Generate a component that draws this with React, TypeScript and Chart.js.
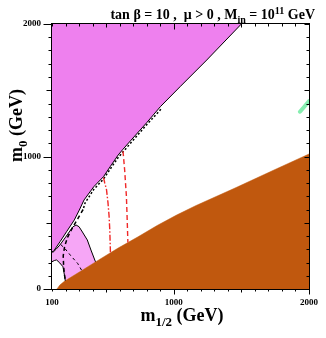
import React, { useEffect, useRef } from "react";
import { Chart, registerables } from "chart.js";

Chart.register(...registerables);

// ---- axis ticks ----
const X_TICKS = [100, 1000, 2000];
const Y_TICKS = [0, 1000, 2000];
const X_MINOR = [100, 200, 300, 400, 500, 600, 700, 800, 900, 1000, 1100, 1200, 1300, 1400, 1500, 1600, 1700, 1800, 1900, 2000];
const Y_MINOR = [0, 100, 200, 300, 400, 500, 600, 700, 800, 900, 1000, 1100, 1200, 1300, 1400, 1500, 1600, 1700, 1800, 1900, 2000];

// ---- magenta (charged LSP / excluded) region boundary ----
const magentaM12 = [100, 110, 160, 210, 265, 302, 337, 409, 481, 530, 589, 625, 685, 800, 901, 1050, 1244, 1500];
const magentaM0 = [281, 283, 358, 436, 521, 596, 672, 772, 848, 923, 1011, 1055, 1124, 1255, 1376, 1530, 1728, 2000];

// ---- light pink region (upper and lower boundaries) ----
const pinkTopM12 = [100, 109, 130, 158, 201, 253, 278, 300, 325, 361, 388, 422];
const pinkTopM0 = [279, 279, 300, 332, 392, 468, 483, 470, 430, 370, 294, 204];
const pinkLowM12 = [100, 120, 134, 158, 181, 194, 198, 250, 302, 380, 422];
const pinkLowM0 = [206, 216, 219, 196, 168, 93, 62, 96, 128, 178, 204];

// ---- brown region boundary ----
const brownM12 = [136, 145, 158, 194, 302, 445, 589, 733, 877, 1021, 1165, 1453, 1741, 2000];
const brownM0 = [0, 12, 30, 60, 128, 219, 309, 392, 479, 558, 630, 762, 898, 1019];

// ---- contour lines ----
const arcM12 = [100, 120, 134, 158, 181, 194, 198];
const arcM0 = [206, 216, 219, 196, 168, 93, 62];

const dottedM12 = [905, 800, 685, 625, 589, 530, 481, 409, 345, 330];
const dottedM0 = [1356, 1240, 1105, 1035, 992, 905, 830, 752, 650, 600];

const thickDashM12 = [330, 290, 250, 215, 193, 183, 186, 193, 200];
const thickDashM0 = [600, 530, 460, 390, 320, 250, 170, 100, 62];

const thinDashM12 = [165, 194, 240, 289, 325];
const thinDashM0 = [335, 307, 250, 194, 131];

const redDashDotM12 = [481, 490, 503, 514, 522, 527, 530, 532];
const redDashDotM0 = [840, 800, 750, 650, 550, 450, 350, 272];

const redDashM12 = [625, 637, 650, 656, 661];
const redDashM0 = [1040, 900, 700, 521, 352];

const greenM12 = [1933, 1962, 2000];
const greenM0 = [1338, 1372, 1418];

const pts = (xs: number[], ys: number[]) => xs.map((x, i) => ({ x, y: ys[i] }));

const SERIF = '"Liberation Serif", "Times New Roman", serif';

type Part = { t: string; k?: "sub" | "sup" };

function richWidth(ctx: CanvasRenderingContext2D, parts: Part[], size: number) {
  let w = 0;
  for (const p of parts) {
    const s = p.k ? size * 0.72 : size;
    ctx.font = `bold ${s}px ${SERIF}`;
    w += ctx.measureText(p.t).width;
  }
  return w;
}

function drawRich(ctx: CanvasRenderingContext2D, parts: Part[], x: number, y: number, size: number) {
  let cx = x;
  for (const p of parts) {
    const s = p.k ? size * 0.72 : size;
    ctx.font = `bold ${s}px ${SERIF}`;
    const dy = p.k === "sub" ? size * 0.28 : p.k === "sup" ? -size * 0.38 : 0;
    ctx.fillText(p.t, cx, y + dy);
    cx += ctx.measureText(p.t).width;
  }
}

const framePlugin = {
  id: "frameTicks",
  afterDraw(chart: any) {
    const { ctx, chartArea: a, scales } = chart;
    const xs = scales.x;
    const ys = scales.y;
    ctx.save();
    ctx.strokeStyle = "#000";
    ctx.lineWidth = 1;
    const L = a.left - 0.5, R = a.right + 0.5, T = a.top - 0.5, B = a.bottom + 0.5;
    ctx.strokeRect(L, T, R - L, B - T);
    ctx.beginPath();
    for (const v of X_MINOR) {
      const px = Math.round(xs.getPixelForValue(v)) + 0.5;
      const len = v % 1000 === 0 ? 6 : v % 500 === 0 ? 4 : 3;
      ctx.moveTo(px, B);
      ctx.lineTo(px, B + len - 1);
      ctx.moveTo(px, T);
      ctx.lineTo(px, T + len);
    }
    for (const v of Y_MINOR) {
      const py = Math.round(ys.getPixelForValue(v)) + 0.5;
      const len = v % 1000 === 0 ? 8 : v % 500 === 0 ? 5 : 3;
      ctx.moveTo(L, py);
      ctx.lineTo(L - len, py);
      ctx.moveTo(R, py);
      ctx.lineTo(R - Math.min(len, 5), py);
    }
    ctx.stroke();
    ctx.restore();
  },
};

const TITLE: Part[] = [
  { t: "tan \u03b2 = 10 ,  \u03bc > 0 , M" },
  { t: "in", k: "sub" },
  { t: " = 10" },
  { t: "11", k: "sup" },
  { t: " GeV" },
];
const X_TITLE: Part[] = [{ t: "m" }, { t: "1/2", k: "sub" }, { t: " (GeV)" }];
const Y_TITLE: Part[] = [{ t: "m" }, { t: "0", k: "sub" }, { t: " (GeV)" }];

const textPlugin = {
  id: "texts",
  afterDraw(chart: any) {
    const { ctx } = chart;
    ctx.save();
    ctx.fillStyle = "#000";
    ctx.textBaseline = "alphabetic";
    ctx.textAlign = "left";
    // title, right aligned
    const tSize = 14;
    const tw = richWidth(ctx, TITLE, tSize);
    drawRich(ctx, TITLE, 315 - tw, 19, tSize);
    // x title
    const aSize = 18;
    const xw = richWidth(ctx, X_TITLE, aSize);
    drawRich(ctx, X_TITLE, 182 - xw / 2, 321, aSize);
    // y title, rotated
    ctx.translate(22, 162);
    ctx.rotate(-Math.PI / 2);
    drawRich(ctx, Y_TITLE, 0, 0, aSize);
    ctx.restore();
  },
};

export default function App() {
  const ref = useRef<HTMLCanvasElement>(null);
  useEffect(() => {
    if (!ref.current) return;
    const line = (data: any, extra: any) => ({
      data,
      pointRadius: 0,
      tension: 0,
      fill: false,
      borderWidth: 1,
      borderColor: "#000",
      ...extra,
    });
    const chart = new Chart(ref.current, {
      type: "line",
      data: {
        datasets: [
          line(pts(redDashDotM12, redDashDotM0), { borderColor: "#f02828", borderWidth: 1.4, borderDash: [6, 2, 1.5, 2], order: 0 }),
          line(pts(redDashM12, redDashM0), { borderColor: "#f02828", borderWidth: 1.4, borderDash: [5, 3], order: 0 }),
          line(pts(dottedM12, dottedM0), { borderWidth: 1.5, borderDash: [2, 2], order: 1 }),
          line(pts(thickDashM12, thickDashM0), { borderWidth: 1.5, borderDash: [4, 3], order: 1 }),
          line(pts(thinDashM12, thinDashM0), { borderWidth: 1, borderDash: [3, 3], order: 1 }),
          line(pts(arcM12, arcM0), { borderWidth: 1, order: 1 }),
          line(pts(greenM12, greenM0), { borderColor: "#86eeb0", borderWidth: 4, borderCapStyle: "round", order: 1 }),
          line(pts(pinkTopM12, pinkTopM0), { fill: 8, backgroundColor: "#f6a6f6", order: 5 }),
          line(pts(pinkLowM12, pinkLowM0), { borderWidth: 0, borderColor: "rgba(0,0,0,0)", order: 6 }),
          line(pts(brownM12, brownM0), { fill: "start", backgroundColor: "#c0580e", borderColor: "#c0580e", borderWidth: 0.5, order: 4 }),
          line(pts(magentaM12, magentaM0), { fill: "end", backgroundColor: "#ee80ee", order: 7 }),
        ],
      },
      options: {
        animation: false,
        responsive: true,
        maintainAspectRatio: false,
        layout: { padding: { top: 24, right: 10, left: 0, bottom: 0 } },
        plugins: { legend: { display: false }, tooltip: { enabled: false }, title: { display: false } },
        elements: { point: { radius: 0 } },
        scales: {
          x: {
            type: "linear",
            min: 100,
            max: 2000,
            grid: { display: false, drawTicks: false },
            border: { display: false },
            ticks: {
              color: "#000",
              font: { family: SERIF, size: 9, weight: "bold" },
              padding: 8,
              maxRotation: 0,
              autoSkip: false,
              callback: (v: any) => String(v),
            },
            afterBuildTicks: (s: any) => {
              s.ticks = X_TICKS.map((v) => ({ value: v }));
            },
            afterFit: (s: any) => {
              s.height = 49;
            },
          },
          y: {
            type: "linear",
            min: 0,
            max: 2000,
            grid: { display: false, drawTicks: false },
            border: { display: false },
            ticks: {
              color: "#000",
              font: { family: SERIF, size: 9, weight: "bold" },
              padding: 11,
              autoSkip: false,
              callback: (v: any) => String(v),
            },
            afterBuildTicks: (s: any) => {
              s.ticks = Y_TICKS.map((v) => ({ value: v }));
            },
            afterFit: (s: any) => {
              s.width = 52;
            },
          },
        },
      } as any,
      plugins: [framePlugin, textPlugin],
    });
    return () => chart.destroy();
  }, []);
  return (
    <div style={{ position: "fixed", left: 0, top: 0, width: 326, height: 338, background: "#fff" }}>
      <canvas ref={ref} />
    </div>
  );
}
